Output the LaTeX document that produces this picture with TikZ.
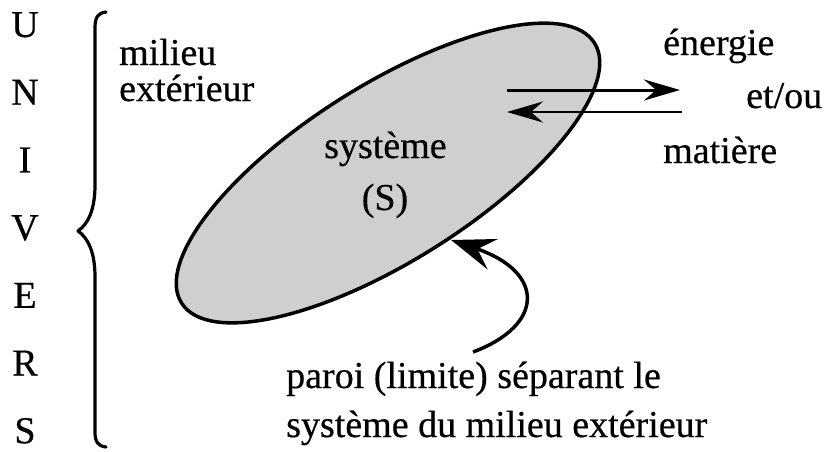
\documentclass[tikz,border=0pt]{standalone}
\usepackage{fontspec}
\setmainfont{LiberationSerif}[Extension=.ttf, UprightFont=*-Regular, BoldFont=*-Bold, ItalicFont=*-Italic, FakeBold=0.5]
\usetikzlibrary{arrows.meta,shapes.geometric}
\definecolor{sysgray}{rgb}{0.81,0.81,0.81}

\begin{document}
\begin{tikzpicture}[x=1pt,y=1pt,
  lbl/.style={inner sep=0pt, font=\fontsize{38}{40}\selectfont},
  flow/.style={line width=3pt, -{Stealth[length=36pt,width=21pt,inset=12pt]}},
  wallarrow/.style={line width=3.5pt, -{Stealth[length=44pt,width=32pt,inset=16pt]}},
  bracestyle/.style={line width=3.2pt, line cap=round, line join=round}
]
\useasboundingbox (0,0) rectangle (824,-451);

% the system: tilted grey ellipse
\node[ellipse, draw, line width=3.5pt, fill=sysgray, inner sep=0pt,
      minimum width=488pt, minimum height=176pt, rotate=32.2] (sys) at (388,-173) {};
\node[lbl, anchor=base west] (systxt) at (324,-158) {système};
\node[lbl, anchor=base] (stxt) at (385,-210) {(S)};

% the word UNIVERS, one letter per line
\foreach \l [count=\i from 0] in {U,N,I,V,E,R,S}
  \node[lbl, anchor=base] (univ\i) at (25,{-37-67.7*\i}) {\l};

% curly brace
\draw[bracestyle] (106,-12) .. controls (98,-13) and (95,-17) .. (95,-28)
  -- (95,-185) .. controls (95,-210) and (88,-224) .. (78,-231)
  .. controls (88,-238) and (95,-252) .. (95,-277)
  -- (95,-432) .. controls (95,-442) and (98,-446) .. (106,-447);

\node[lbl, anchor=base west] (mil1) at (119,-65) {milieu};
\node[lbl, anchor=base west] (mil2) at (119,-101) {extérieur};

% exchanges with the surroundings
\node[lbl, anchor=base west] (en) at (663,-55) {énergie};
\node[lbl, anchor=base west] (etou) at (746,-108) {et/ou};
\node[lbl, anchor=base west] (mat) at (663,-163) {matière};

\coordinate (outA) at (507,-90);
\coordinate (outB) at (680,-90);
\coordinate (inA) at (682,-112);
\coordinate (inB) at (507,-112);
\draw[flow] (outA) -- (outB);
\draw[flow, line width=2.5pt] (inA) -- (inB);

% the wall
\coordinate (ptail) at (473,-352);
\coordinate (wallpt) at (451,-240);
\draw[wallarrow] (ptail) .. controls (545,-325) and (545,-272) .. (wallpt);

\node[lbl, anchor=base west] (par1) at (286,-388) {paroi (limite) séparant le};
\node[lbl, anchor=base west] (par2) at (286,-437) {système du milieu extérieur};
\end{tikzpicture}
\end{document}
